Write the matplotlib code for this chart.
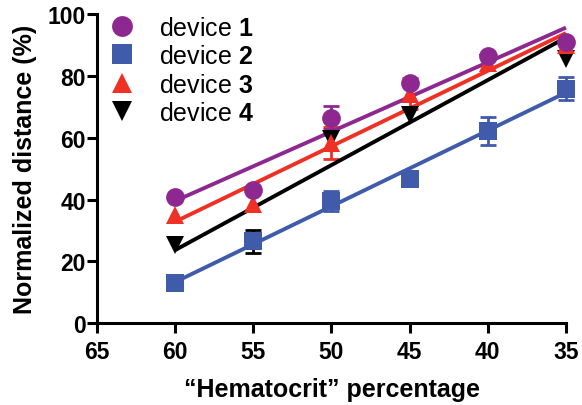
import numpy as np
import matplotlib
matplotlib.use('Agg')
import matplotlib.pyplot as plt
from matplotlib.lines import Line2D

plt.rcParams['font.family'] = ['Liberation Sans', 'DejaVu Sans']
plt.rcParams['mathtext.fontset'] = 'custom'
plt.rcParams['mathtext.rm'] = 'Liberation Sans'
plt.rcParams['mathtext.bf'] = 'Liberation Sans:bold'

# hematocrit levels
hct = [60, 55, 50, 45, 40, 35]

# normalized distance (%) and error per device
dev1 = [40.8, 43.0, 66.5, 77.8, 86.5, 90.9]
dev1_err = [0, 0, 3.8, 0, 0, 0]
dev2 = [12.9, 26.5, 39.6, 46.8, 62.2, 75.8]
dev2_err = [0, 0, 3.3, 0, 4.5, 3.7]
dev3 = [35.0, 38.7, 58.2, 74.2, 84.0, 90.0]
dev3_err = [0, 0, 5.2, 5.0, 0, 0]
dev4 = [25.3, 26.5, 59.7, 67.2, 84.0, 85.5]
dev4_err = [0, 3.8, 0, 0, 0, 0]

labels = ['1', '2', '3', '4']
xticks = [65, 60, 55, 50, 45, 40, 35]
yticks = [0, 20, 40, 60, 80, 100]

# drawing order: device 4 at the back, device 1 on top
series = [
    (dev4, dev4_err, 'black', 'v', 13.5, '4'),
    (dev2, dev2_err, '#3F5BAA', 's', 12.5, '2'),
    (dev3, dev3_err, '#EE3124', '^', 13.5, '3'),
    (dev1, dev1_err, '#8E2891', 'o', 13.5, '1'),
]

fig = plt.figure(figsize=(5.82, 4.06), dpi=100)
ax = fig.add_axes([97/582, 81.7/406, 469/582, 309.3/406])

x = np.array(hct, dtype=float)
for i, (y, err, col, mk, ms, lab) in enumerate(series):
    y = np.array(y)
    e = np.array(err)
    has = e > 0
    ax.errorbar(x[has], y[has], yerr=e[has], fmt='none', ecolor=col,
                elinewidth=2, capsize=6, capthick=2, zorder=1, clip_on=False)
    m, c = np.polyfit(x, y, 1)
    xx = np.array([x.max(), x.min()])
    ax.plot(xx, m*xx + c, color=col, lw=2.8, zorder=2 + i*0.1,
            solid_capstyle='butt', clip_on=False)
    ax.plot(x, y, mk, color=col, ms=ms, mew=0, zorder=3 + i*0.1, clip_on=False)

ax.set_xlim(65, 35)
ax.set_ylim(0, 100)
ax.set_xticks(xticks)
ax.set_yticks(yticks)
ax.spines['top'].set_visible(False)
ax.spines['right'].set_visible(False)
for s in ['left', 'bottom']:
    ax.spines[s].set_linewidth(2.2)
ax.tick_params(axis='both', width=2.2, length=7, labelsize=16.5)
ax.tick_params(axis='x', pad=5)
ax.tick_params(axis='y', pad=1)
for t in ax.get_xticklabels() + ax.get_yticklabels():
    t.set_fontweight('bold')

ax.set_xlabel('\u201cHematocrit\u201d percentage', fontsize=18,
              fontweight='bold', labelpad=10)
ax.set_ylabel('Normalized distance (%)', fontsize=18, fontweight='bold',
              labelpad=8)

# legend in device order
handles = []
for lab in labels:
    y, err, col, mk, ms, _ = [s for s in series if s[5] == lab][0]
    handles.append(Line2D([], [], ls='none', marker=mk, color=col,
                          ms=ms + 1.5, mew=0))
ax.legend(handles, ['device $\\mathbf{%s}$' % l for l in labels],
          loc='upper left', bbox_to_anchor=(0.0156, 0.995), frameon=False,
          fontsize=18, handlelength=1.45, handletextpad=0.72,
          labelspacing=0.18, borderpad=0, borderaxespad=0)

fig.savefig('out.png', dpi=100)
